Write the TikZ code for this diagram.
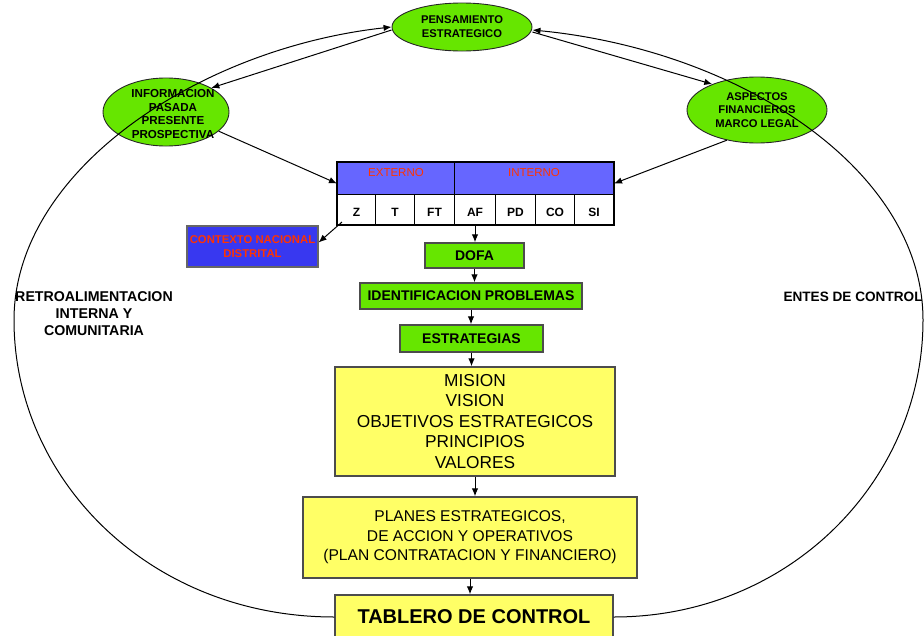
\documentclass[tikz,border=0pt]{standalone}
\usepackage{fontspec}
\setmainfont{Liberation Sans}
\usetikzlibrary{arrows.meta,shapes.geometric}
\definecolor{lime}{RGB}{102,230,0}
\definecolor{lemon}{RGB}{255,255,102}
\definecolor{hdrblue}{RGB}{102,102,255}
\definecolor{ctxblue}{RGB}{56,56,240}
\definecolor{redtxt}{RGB}{255,51,0}
\begin{document}
\begin{tikzpicture}[x=1pt,y=-1pt,
  ell/.style={ellipse, draw=black!85, line width=0.9pt, fill=lime, inner sep=0pt,
    align=center, font=\fontsize{11.2}{13.8}\selectfont\bfseries},
  gbox/.style={rectangle, draw=black!70, line width=1.4pt, fill=lime, inner sep=0pt,
    font=\fontsize{14}{16}\selectfont\bfseries},
  ybox/.style={rectangle, draw=black!70, line width=1.4pt, fill=lemon, inner sep=0pt,
    align=center},
  hcell/.style={rectangle, draw=black, line width=1pt, fill=hdrblue, text=redtxt,
    inner sep=0pt, minimum height=32, text height=8pt, text depth=12pt,
    font=\fontsize{11.5}{13}\selectfont, anchor=north west},
  cell/.style={rectangle, draw=black, line width=1pt, fill=white, inner sep=0pt,
    minimum height=30, text height=14pt, text depth=0pt,
    font=\fontsize{12}{13}\selectfont\bfseries, anchor=north west},
  arr/.style={-{Latex[length=8pt,width=6.5pt]}, line width=1pt},
  loopline/.style={line width=1.2pt},
  sidetext/.style={align=center, font=\fontsize{14.2}{17}\selectfont\bfseries}
]
\useasboundingbox (0,0) rectangle (924,635);
\clip (0,0) rectangle (924,635);

% ellipses at the top
\node[ell, minimum width=140, minimum height=48] (pens) at (462,27) {PENSAMIENTO\\ESTRATEGICO};
\node[ell, minimum width=126, minimum height=68] (info) at (166,112) {};
\node[align=center, font=\fontsize{11.6}{13.6}\selectfont\bfseries] (infotext) at (173,114)
  {INFORMACION\\PASADA\\PRESENTE\\PROSPECTIVA};
\node[ell, minimum width=140, minimum height=66] (asp) at (757,110) {ASPECTOS\\FINANCIEROS\\MARCO LEGAL};

% analysis table
\node[hcell, minimum width=117] (ext) at (337,162) {EXTERNO};
\node[hcell, minimum width=159] (int) at (454,162) {INTERNO};
\node[cell, minimum width=38] (z)  at (337,194) {Z};
\node[cell, minimum width=39] (t)  at (375,194) {T};
\node[cell, minimum width=40] (ft) at (414,194) {FT};
\node[cell, minimum width=41] (af) at (454,194) {AF};
\node[cell, minimum width=40] (pd) at (495,194) {PD};
\node[cell, minimum width=39] (co) at (535,194) {CO};
\node[cell, minimum width=39] (si) at (574,194) {SI};
\draw[line width=2.5pt] (ext.north west) rectangle (si.south east);

% context box
\node[rectangle, draw=black!60, line width=1.2pt, fill=ctxblue, minimum width=131,
  minimum height=41, inner sep=0pt, text=redtxt, align=center,
  font=\fontsize{11.3}{14}\selectfont\bfseries] (ctx) at (252.5,246.5) {CONTEXTO NACIONAL\\DISTRITAL};

% main flow
\node[gbox, minimum width=99, minimum height=25] (dofa) at (474.5,255.5) {DOFA};
\node[gbox, minimum width=222, minimum height=26] (ident) at (471,296) {IDENTIFICACION PROBLEMAS};
\node[gbox, minimum width=143, minimum height=27] (estr) at (471.5,338.5) {ESTRATEGIAS};
\node[ybox, minimum width=280, minimum height=109, font=\fontsize{17.3}{20.5}\selectfont] (mision) at (475,421.5)
  {MISION\\VISION\\OBJETIVOS ESTRATEGICOS\\PRINCIPIOS\\VALORES};
\node[ybox, minimum width=334, minimum height=81, font=\fontsize{15.6}{19.5}\selectfont] (planes) at (470,537.5)
  {PLANES ESTRATEGICOS,\\DE ACCION Y OPERATIVOS\\(PLAN CONTRATACION Y FINANCIERO)};
\node[ybox, minimum width=278, minimum height=44, font=\fontsize{20}{24}\selectfont\bfseries] (tab) at (474,617)
  {TABLERO DE CONTROL};

% side labels
\node[sidetext] (retro) at (94,314) {RETROALIMENTACION\\INTERNA Y\\COMUNITARIA};
\node[sidetext, anchor=west, font=\fontsize{13.6}{17}\selectfont\bfseries] (entes) at (780,297) {ENTES DE CONTROL};

% connectors
\draw[arr] (af.south) -- (af.south |- dofa.north);
\draw[arr] (dofa.south) -- (dofa.south |- ident.north);
\draw[arr] (ident.south) -- (ident.south |- estr.north);
\draw[arr] (estr.south) -- (estr.south |- mision.north);
\draw[arr] (mision.south) -- (mision.south |- planes.north);
\draw[arr] (planes.south) -- (planes.south |- tab.north);
\draw[arr] (info.-20) -- ([yshift=-5pt]ext.west);
\draw[arr] (asp.225) -- ([yshift=-5pt]int.east);
\draw[arr] ([xshift=5pt,yshift=3pt]z.south west) -- ([yshift=4pt]ctx.east);
\draw[arr] ([yshift=-3pt]pens.west) -- (info.28);
\draw[arr] ([yshift=-5pt]pens.east) -- (asp.150);

% feedback loops
\coordinate (lw) at (14,320);
\coordinate (rw) at (923,320);
\draw[loopline, arr] (tab.west) .. controls (150,617) and (14,480) .. (lw)
  .. controls (14,170) and (200,48) .. (pens.west);
\draw[loopline, arr] (tab.east) .. controls (790,617) and (923,480) .. (rw)
  .. controls (923,170) and (740,50) .. ([yshift=-3pt]pens.east);
\end{tikzpicture}
\end{document}
